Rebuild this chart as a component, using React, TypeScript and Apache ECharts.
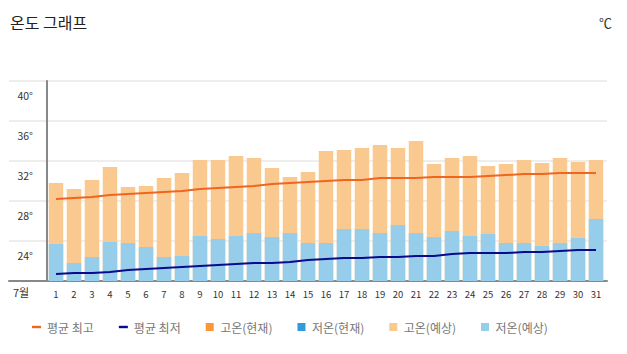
import React, { useEffect, useRef } from "react";
import * as echarts from "echarts";

const days = Array.from({ length: 31 }, (_, i) => String(i + 1));
const yTicks = [20, 24, 28, 32, 36, 40];

const highForecast = [29.8, 29.2, 30.1, 31.4, 29.4, 29.5, 30.3, 30.8, 32.1, 32.1, 32.5, 32.3, 31.3, 30.4, 30.9, 33.0, 33.1, 33.3, 33.6, 33.3, 34.0, 31.7, 32.3, 32.5, 31.5, 31.7, 32.1, 31.8, 32.3, 31.9, 32.1];
const lowForecast = [23.7, 21.8, 22.4, 23.9, 23.8, 23.4, 22.4, 22.5, 24.5, 24.2, 24.5, 24.8, 24.4, 24.8, 23.8, 23.8, 25.2, 25.2, 24.8, 25.6, 24.8, 24.4, 25.0, 24.5, 24.7, 23.8, 23.8, 23.5, 23.8, 24.3, 26.2];
const avgHigh = [28.2, 28.3, 28.4, 28.6, 28.7, 28.8, 28.9, 29.0, 29.2, 29.3, 29.4, 29.5, 29.7, 29.8, 29.9, 30.0, 30.1, 30.1, 30.3, 30.3, 30.3, 30.4, 30.4, 30.4, 30.5, 30.6, 30.7, 30.7, 30.8, 30.8, 30.8];
const avgLow = [20.7, 20.8, 20.8, 20.9, 21.1, 21.2, 21.3, 21.4, 21.5, 21.6, 21.7, 21.8, 21.8, 21.9, 22.1, 22.2, 22.3, 22.3, 22.4, 22.4, 22.5, 22.5, 22.7, 22.8, 22.8, 22.8, 22.9, 22.9, 23.0, 23.1, 23.1];
const highCurrent: (number | null)[] = [];
const lowCurrent: (number | null)[] = [];

const FONT = "'Noto Sans CJK KR', 'Noto Sans', sans-serif";
const C_AVG_HIGH = "#f0651f";
const C_AVG_LOW = "#0a0a8c";
const C_HIGH_CUR = "#f7993b";
const C_LOW_CUR = "#349ad9";
const C_HIGH_FC = "#f9c98f";
const C_LOW_FC = "#95cdeb";

const LINE_ICON = "path://M0,0H9V2.4H0Z";
const SQ_ICON = "path://M0,0H8V8H0Z";

export default function App() {
  const ref = useRef<HTMLDivElement>(null);
  useEffect(() => {
    if (!ref.current) return;
    const chart = echarts.init(ref.current, undefined, { renderer: "svg" });
    const yMin = yTicks[0];
    const yMax = yTicks[yTicks.length - 1];
    const yInt = yTicks[1] - yTicks[0];
    chart.setOption({
      animation: false,
      textStyle: { fontFamily: FONT },
      title: [
        { text: "온도 그래프", left: 5, top: 9, textStyle: { fontSize: 16, fontWeight: "normal", color: "#222", fontFamily: FONT } },
        { text: "℃", right: 10, top: 11, textStyle: { fontSize: 13, fontWeight: "normal", color: "#333", fontFamily: FONT } },
      ],
      legend: {
        left: 27,
        top: 316,
        itemGap: 25,
        itemWidth: 9,
        itemHeight: 8,
        textStyle: { fontSize: 12, color: "#777", fontFamily: FONT, padding: [0, 0, 0, 1] },
        data: [
          { name: "평균 최고", icon: LINE_ICON, itemStyle: { color: C_AVG_HIGH } },
          { name: "평균 최저", icon: LINE_ICON, itemStyle: { color: C_AVG_LOW } },
          { name: "고온(현재)", icon: SQ_ICON, itemStyle: { color: C_HIGH_CUR } },
          { name: "저온(현재)", icon: SQ_ICON, itemStyle: { color: C_LOW_CUR } },
          { name: "고온(예상)", icon: SQ_ICON, itemStyle: { color: C_HIGH_FC } },
          { name: "저온(예상)", icon: SQ_ICON, itemStyle: { color: C_LOW_FC } },
        ],
      },
      grid: [
        { left: 47, right: 22, top: 81, bottom: 73 },
        { left: 9, right: 20, top: 81, bottom: 73 },
      ],
      xAxis: [
        {
          type: "category",
          gridIndex: 0,
          data: days,
          axisLine: { show: false },
          axisTick: { show: false },
          axisLabel: { fontSize: 9.5, color: "#333", margin: 8, interval: 0, fontFamily: FONT },
        },
        {
          type: "value",
          gridIndex: 1,
          min: 0,
          max: 1,
          axisLine: { show: true, onZero: false, lineStyle: { color: "#888", width: 2 } },
          axisTick: { show: false },
          axisLabel: { show: false },
          splitLine: { show: false },
        },
      ],
      yAxis: [
        {
          type: "value",
          gridIndex: 0,
          min: yMin,
          max: yMax,
          interval: yInt,
          axisLine: { show: true, lineStyle: { color: "#888", width: 2 } },
          axisTick: { show: false },
          splitLine: { show: false },
          axisLabel: {
            formatter: "{value}°",
            fontSize: 10.5,
            color: "#333",
            margin: 14,
            verticalAlign: "top",
            padding: [9, 0, 0, 0],
            showMinLabel: false,
            fontFamily: FONT,
          },
        },
        {
          type: "value",
          gridIndex: 1,
          min: yMin,
          max: yMax,
          interval: yInt,
          axisLine: { show: false },
          axisTick: { show: false },
          axisLabel: { show: false },
          splitLine: { show: true, lineStyle: { color: "#eeeeee", width: 2 } },
        },
      ],
      graphic: [
        { type: "text", left: 13, top: 286, style: { text: "7월", fontSize: 11, fill: "#333", fontFamily: FONT } },
      ],
      series: [
        { name: "고온(현재)", type: "bar", data: highCurrent, barWidth: 14.5, barGap: "-100%", itemStyle: { color: C_HIGH_CUR } },
        { name: "저온(현재)", type: "bar", data: lowCurrent, barWidth: 14.5, barGap: "-100%", itemStyle: { color: C_LOW_CUR } },
        { name: "고온(예상)", type: "bar", data: highForecast, barWidth: 14.5, barGap: "-100%", itemStyle: { color: C_HIGH_FC } },
        { name: "저온(예상)", type: "bar", data: lowForecast, barWidth: 14.5, barGap: "-100%", itemStyle: { color: C_LOW_FC } },
        { name: "평균 최고", type: "line", data: avgHigh, symbol: "none", lineStyle: { color: C_AVG_HIGH, width: 2 }, itemStyle: { color: C_AVG_HIGH }, z: 5 },
        { name: "평균 최저", type: "line", data: avgLow, symbol: "none", lineStyle: { color: C_AVG_LOW, width: 2 }, itemStyle: { color: C_AVG_LOW }, z: 5 },
      ],
    });
    return () => chart.dispose();
  }, []);
  return <div ref={ref} style={{ width: 627, height: 354, position: "absolute", left: 0, top: 0 }} />;
}
